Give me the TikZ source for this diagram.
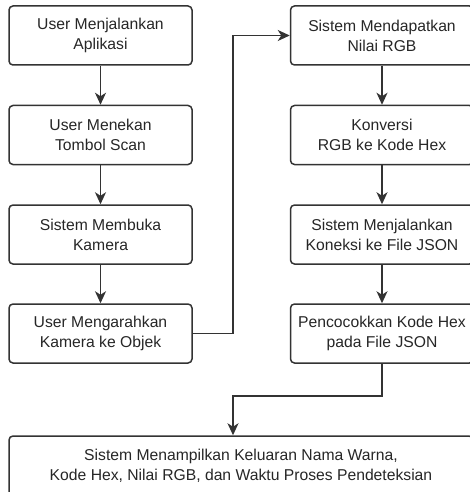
\documentclass[tikz,border=0pt]{standalone}
\usepackage{fontspec}
\setmainfont{Liberation Sans}
\usetikzlibrary{arrows.meta}

\begin{document}
\begin{tikzpicture}[x=1pt,y=-1pt]
    \useasboundingbox (0,0) rectangle (469,492);
    \begin{scope}[every node/.style={rectangle,draw=black!80,line width=1.5pt,rounded corners=4pt,
                minimum width=183pt,minimum height=59pt,align=center,inner sep=0pt,
                text=black!85,font=\fontsize{15.7}{20}\selectfont}]
        \node (l1) at (100.5,35.5) {User Menjalankan\\Aplikasi};
        \node (l2) at (100.5,135) {User Menekan\\Tombol Scan};
        \node (l3) at (100.5,234.5) {Sistem Membuka\\Kamera};
        \node (l4) at (100.5,333.5) {User Mengarahkan\\Kamera ke Objek};
        \node (r1) at (382,35.5) {Sistem Mendapatkan\\Nilai RGB};
        \node (r2) at (382,135) {Konversi\\RGB ke Kode Hex};
        \node (r3) at (382,234.5) {Sistem Menjalankan\\Koneksi ke File JSON};
        \node (r4) at (382,333.5) {Pencocokkan Kode Hex\\pada File JSON};
        \node [minimum width=464pt,minimum height=60pt] (out) at (241,466)
            {Sistem Menampilkan Keluaran Nama Warna,\\Kode Hex, Nilai RGB, dan Waktu Proses Pendeteksian};
    \end{scope}

    \coordinate (c1) at (233,0);

    \begin{scope}[>={Stealth[length=12pt,width=11pt,inset=3.5pt]},
                line width=1.5pt, draw=black!80,
                every edge/.style={draw=black!80, line width=1.5pt}]
        \path [->] (l1) edge (l2);
        \path [->] (l2) edge (l3);
        \path [->] (l3) edge (l4);
        \path [->] (r1) edge (r2);
        \path [->] (r2) edge (r3);
        \path [->] (r3) edge (r4);
        \draw [->] (l4.east) -- (l4.east -| c1) |- (r1.west);
        \draw [->] (r4.south) -- ++(0,32) -| (c1 |- out.north);
    \end{scope}

\end{tikzpicture}
\end{document}
